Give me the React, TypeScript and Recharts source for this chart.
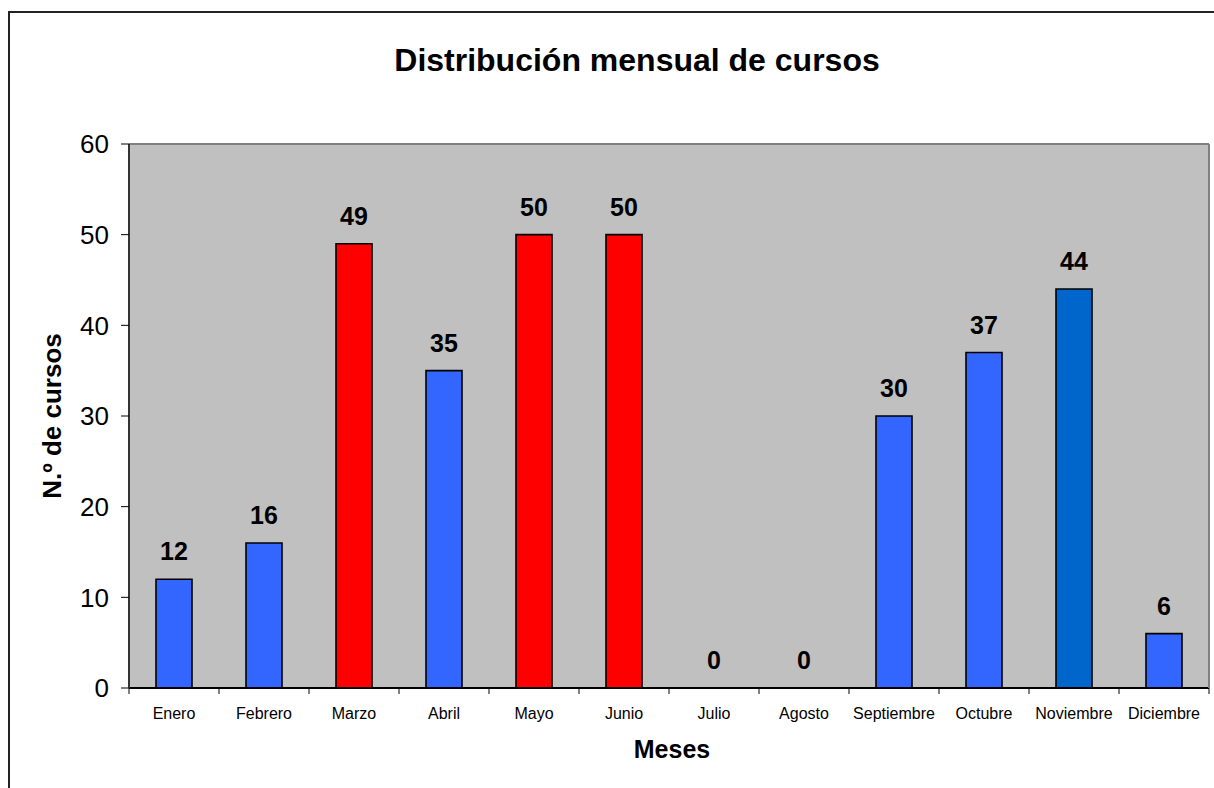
import React from "react";
import { Bar, CartesianGrid, Cell, ComposedChart, LabelList, Line, ReferenceLine, XAxis, YAxis } from "recharts";

const MONTHS = ["Enero", "Febrero", "Marzo", "Abril", "Mayo", "Junio", "Julio", "Agosto", "Septiembre", "Octubre", "Noviembre", "Diciembre"];
const COURSES = [12, 16, 49, 35, 50, 50, 0, 0, 30, 37, 44, 6];
const COLORS = ["#3366FF", "#3366FF", "#FF0000", "#3366FF", "#FF0000", "#FF0000", "#3366FF", "#3366FF", "#3366FF", "#3366FF", "#0066CC", "#3366FF"];
const Y_TICKS = [0, 10, 20, 30, 40, 50, 60];

const W = 1214;
const H = 788;
const M = { top: 144, right: 4, left: 0, bottom: 0 };
const Y_W = 129;
const X_H = 100;
const PLOT_BOTTOM = H - X_H;
const BAND = (W - M.left - M.right - Y_W - 1) / MONTHS.length;
const FONT = "'Liberation Sans', Arial, sans-serif";

const data = MONTHS.map((m, i) => ({ month: m, value: COURSES[i] }));

// category label plus boundary tick marks (Excel puts ticks between categories)
function MonthTick(props: any) {
  const { x, y, payload, index } = props;
  const half = BAND / 2;
  return (
    <g>
      <line x1={x - half} x2={x - half} y1={PLOT_BOTTOM} y2={PLOT_BOTTOM + 6} stroke="#000" strokeWidth={1} />
      {index === MONTHS.length - 1 && (
        <line x1={x + half} x2={x + half} y1={PLOT_BOTTOM} y2={PLOT_BOTTOM + 6} stroke="#000" strokeWidth={1} />
      )}
      <text x={x} y={y} dy="0.71em" textAnchor="middle" fontSize={16} fontFamily={FONT} fill="#000">
        {payload.value}
      </text>
    </g>
  );
}

export default function App() {
  return (
    <div style={{ position: "absolute", left: 0, top: 0, width: W, height: H, overflow: "hidden", background: "#fff", fontFamily: FONT }}>
      <div style={{ position: "absolute", left: 8, top: 11, right: 0, bottom: 0, borderLeft: "2px solid #222", borderTop: "2px solid #222" }} />
      <div style={{ position: "absolute", left: 287, top: 41, width: 700, textAlign: "center", fontSize: 32, fontWeight: "bold", lineHeight: "38px", color: "#000" }}>
        Distribución mensual de cursos
      </div>
      <div style={{ position: "absolute", left: 0, top: 0 }}>
        <ComposedChart width={W} height={H} data={data} margin={M} barCategoryGap="30%">
          <CartesianGrid fill="#C0C0C0" horizontal={false} vertical={false} />
          <XAxis
            dataKey="month"
            height={X_H}
            axisLine={{ stroke: "#000", strokeWidth: 2 }}
            tickLine={false}
            tickMargin={14}
            tick={<MonthTick />}
            interval={0}
            label={{ value: "Meses", position: "insideBottom", offset: 30, fontSize: 25, fontWeight: "bold", fill: "#000", fontFamily: FONT, dx: 3 }}
          />
          <YAxis
            yAxisId="l"
            domain={[0, 60]}
            ticks={Y_TICKS}
            width={Y_W}
            axisLine={{ stroke: "#333", strokeWidth: 2 }}
            tickLine={{ stroke: "#000" }}
            tickSize={8}
            tickMargin={12}
            tick={{ fill: "#000", fontSize: 26, fontFamily: FONT }}
            label={{ value: "N.º de cursos", angle: -90, position: "insideLeft", offset: 52, fontSize: 26, fontWeight: "bold", fill: "#000", fontFamily: FONT, style: { textAnchor: "middle" } }}
          />
          <YAxis yAxisId="r" orientation="right" width={1} domain={[0, 60]} tick={false} tickLine={false} axisLine={{ stroke: "#808080", strokeWidth: 2 }} />
          <ReferenceLine yAxisId="l" y={60} stroke="#808080" strokeWidth={2} />
          <Bar yAxisId="l" dataKey="value" stroke="#000" strokeWidth={1.6} isAnimationActive={false}>
            {data.map((d, i) => (
              <Cell key={d.month} fill={COLORS[i]} />
            ))}
          </Bar>
          {/* invisible series carrying the value labels, so zero months get one too */}
          <Line yAxisId="l" dataKey="value" stroke="none" dot={false} activeDot={false} legendType="none" isAnimationActive={false}>
            <LabelList dataKey="value" position="top" offset={19} fill="#000" fontSize={25} fontWeight="bold" fontFamily={FONT} />
          </Line>
        </ComposedChart>
      </div>
    </div>
  );
}
